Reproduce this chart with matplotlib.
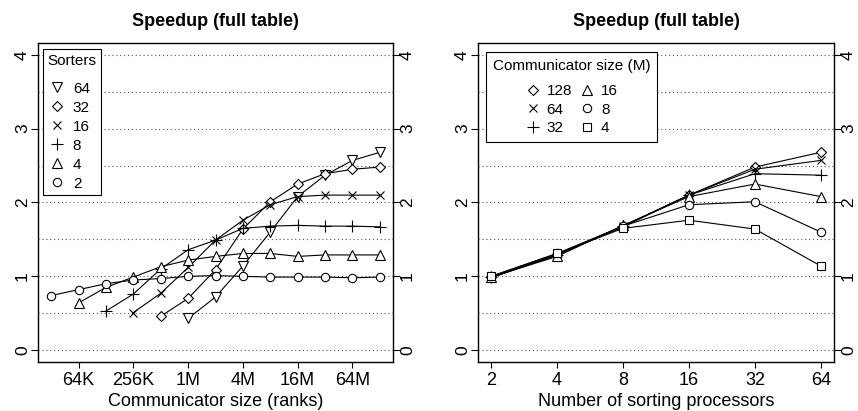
import numpy as np
import matplotlib
matplotlib.use('Agg')
import matplotlib.pyplot as plt
from matplotlib.lines import Line2D
from matplotlib.transforms import ScaledTranslation

plt.rcParams['font.family'] = ['Liberation Sans', 'DejaVu Sans']

# left panel: speedup vs communicator size, one series per sorter count
size_pows = list(range(15, 28))   # 2^15 (32K) .. 2^27 (128M)
size_ticks = [2**16, 2**18, 2**20, 2**22, 2**24, 2**26]
size_ticklabels = ['64K', '256K', '1M', '4M', '16M', '64M']

sorters = [64, 32, 16, 8, 4, 2]
sorter_start = {64: 20, 32: 19, 16: 18, 8: 17, 4: 16, 2: 15}
speedup_64 = [0.43, 0.72, 1.14, 1.60, 2.08, 2.37, 2.57, 2.68]
speedup_32 = [0.46, 0.70, 1.09, 1.64, 2.01, 2.25, 2.39, 2.45, 2.48]
speedup_16 = [0.51, 0.77, 1.12, 1.49, 1.76, 1.97, 2.08, 2.10, 2.10, 2.10]
speedup_8 = [0.53, 0.76, 1.10, 1.36, 1.49, 1.65, 1.68, 1.69, 1.68, 1.68, 1.67]
speedup_4 = [0.64, 0.85, 0.99, 1.13, 1.22, 1.27, 1.31, 1.31, 1.27, 1.29, 1.29, 1.29]
speedup_2 = [0.74, 0.82, 0.90, 0.95, 0.97, 1.00, 1.01, 1.00, 0.99, 0.99, 0.99, 0.98, 0.99]
left_series = {64: speedup_64, 32: speedup_32, 16: speedup_16,
               8: speedup_8, 4: speedup_4, 2: speedup_2}
sorter_marker = {64: 'v', 32: 'D', 16: 'x', 8: '+', 4: '^', 2: 'o'}

# right panel: speedup vs number of sorting processors, one series per size (M)
procs = [2, 4, 8, 16, 32, 64]
comm_sizes = [128, 64, 32, 16, 8, 4]
size_128 = [0.99, 1.29, 1.67, 2.10, 2.48, 2.68]
size_64 = [0.98, 1.29, 1.68, 2.10, 2.45, 2.57]
size_32 = [0.99, 1.29, 1.68, 2.10, 2.39, 2.37]
size_16 = [0.99, 1.27, 1.69, 2.08, 2.25, 2.08]
size_8 = [1.00, 1.31, 1.68, 1.97, 2.01, 1.60]
size_4 = [1.00, 1.31, 1.65, 1.76, 1.64, 1.14]
right_series = {128: size_128, 64: size_64, 32: size_32,
                16: size_16, 8: size_8, 4: size_4}
size_marker = {128: 'D', 64: 'x', 32: '+', 16: '^', 8: 'o', 4: 's'}

msize = {'v': 7, 'D': 4.7, 'x': 6, '+': 8, '^': 7, 'o': 6, 's': 5.8}

fig = plt.figure(figsize=(8.58, 4.11), dpi=100)
ax1 = fig.add_axes([38/858, 49/411, 355/858, 319/411])
ax2 = fig.add_axes([478/858, 49/411, 356/858, 319/411])


def style_axes(ax):
    for y in np.arange(0, 4.01, 0.5):
        ax.axhline(y, color='#555555', lw=0.8, ls=(0, (1, 2.5)), zorder=0)
    ax.set_ylim(-0.16, 4.16)
    ax.set_yticks([0, 1, 2, 3, 4])
    ax.tick_params(axis='y', which='both', left=True, right=True,
                   labelleft=True, labelright=True, labelrotation=90,
                   length=5, width=0.8, pad=3, labelsize=12.5)
    ax.tick_params(axis='x', length=4, width=0.8, pad=3, labelsize=13)
    ax.minorticks_off()
    shift = ScaledTranslation(-3/72, 0, fig.dpi_scale_trans)
    for t in ax.yaxis.get_major_ticks():
        t.label1.set_rotation_mode('anchor')
        t.label1.set_ha('center')
        t.label1.set_va('baseline')
        t.label2.set_rotation_mode('anchor')
        t.label2.set_ha('center')
        t.label2.set_va('top')
        t.label2.set_transform(t.label2.get_transform() + shift)
    for s in ax.spines.values():
        s.set_linewidth(1.0)
    ax.set_title('Speedup (full table)', fontsize=13, fontweight='bold', pad=12)


def make_legend(ax, handles, labels, title, anchor, bpad=0.45, sep=8, **kw):
    leg = ax.legend(handles, labels, title=title, loc='upper left',
                    bbox_to_anchor=anchor, borderaxespad=0, fontsize=11,
                    title_fontsize=11, fancybox=False, edgecolor='black',
                    framealpha=1, borderpad=bpad, **kw)
    leg.get_frame().set_linewidth(0.8)
    leg._legend_box.sep = sep
    return leg


# left panel
for s in sorters:
    start = sorter_start[s]
    xs = [2.0**p for p in size_pows if p >= start]
    m = sorter_marker[s]
    ax1.plot(xs, left_series[s], color='black', lw=0.8, marker=m, ms=msize[m],
             mfc='white' if m not in 'x+' else 'black', mec='black', mew=0.8)
ax1.set_xscale('log', base=2)
ax1.set_xlim(2**(15 - 0.48), 2**(27 + 0.48))
ax1.set_xticks(size_ticks)
ax1.set_xticklabels(size_ticklabels)
style_axes(ax1)
ax1.set_xlabel('Communicator size (ranks)', fontsize=13, labelpad=3)

h1 = [Line2D([], [], ls='none', color='black', marker=sorter_marker[s],
             ms=msize[sorter_marker[s]], mfc='none', mec='black', mew=0.8)
      for s in sorters]
make_legend(ax1, h1, [str(s) for s in sorters], 'Sorters', (0.014, 0.981),
            bpad=0.3, sep=10, alignment='left', handlelength=1.2,
            handletextpad=0.45, labelspacing=0.33)

# right panel
for c in comm_sizes:
    m = size_marker[c]
    ax2.plot(procs, right_series[c], color='black', lw=0.8, marker=m, ms=msize[m],
             mfc='white' if m not in 'x+' else 'black', mec='black', mew=0.8)
ax2.set_xscale('log', base=2)
ax2.set_xlim(2**(1 - 0.2), 2**(6 + 0.2))
ax2.set_xticks(procs)
ax2.set_xticklabels([str(p) for p in procs])
style_axes(ax2)
ax2.set_xlabel('Number of sorting processors', fontsize=13, labelpad=3)

h2 = [Line2D([], [], ls='none', color='black', marker=size_marker[c],
             ms=msize[size_marker[c]], mfc='none', mec='black', mew=0.8)
      for c in comm_sizes]
make_legend(ax2, h2, [str(c) for c in comm_sizes], 'Communicator size (M)',
            (0.022, 0.972), ncol=2, handlelength=1.0, handletextpad=0.4,
            labelspacing=0.3, columnspacing=0.5)

fig.savefig('out.png', dpi=100)
